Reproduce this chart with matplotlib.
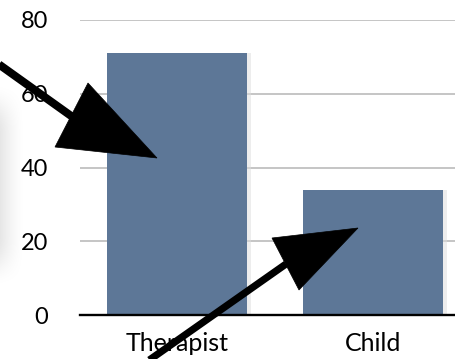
import numpy as np
import matplotlib
matplotlib.use("Agg")
import matplotlib.pyplot as plt
from matplotlib.patches import Polygon
from matplotlib.lines import Line2D

categories = ["Therapist", "Child"]
values = [71, 34]
y_ticks = [0, 20, 40, 60, 80]

W, H = 456, 359
fig = plt.figure(figsize=(W / 100, H / 100), dpi=100)
plt.rcParams['font.family'] = ['Lato', 'DejaVu Sans']

# soft grey shadow along the left edge
sx = np.linspace(0, 1, 40)
sy = np.linspace(0, 1, 120)
fx = (1 - sx) ** 1.5
fy = np.clip(np.minimum(sy / 0.25, (1 - sy) / 0.25), 0, 1)
fy = fy * fy * (3 - 2 * fy)
alpha = 0.10 * fy[:, None] * fx[None, :]
rgba = np.zeros((len(sy), len(sx), 4))
rgba[..., 3] = alpha
bg = fig.add_axes([0, 1 - 290 / H, 26 / W, 210 / H])
bg.imshow(rgba, aspect='auto', interpolation='bilinear')
bg.axis('off')

ax = fig.add_axes([80 / W, 1 - 315 / H, 1 - 80 / W, (315 - 20) / H])
x = np.arange(len(categories))
bar_color = '#5d7797'
# faint drop shadow behind the bars
ax.bar(x + 0.01, values, width=0.735, color='#dcdcdc', alpha=0.5, zorder=2,
       linewidth=0)
ax.bar(x, values, width=0.714, color=bar_color, zorder=3, linewidth=0)

ax.set_ylim(0, 80)
ax.set_xlim(-0.495, 1.423)
ax.set_yticks(y_ticks)
ax.set_yticklabels([str(t) for t in y_ticks], fontsize=17)
ax.set_xticks(x)
ax.set_xticklabels(categories, fontsize=18)
ax.tick_params(axis='y', length=0, pad=23)
ax.tick_params(axis='x', length=0, pad=12)
ax.yaxis.grid(True, color='#b5b5b5', linewidth=1.1, zorder=0)
ax.set_axisbelow(True)
for s in ['left', 'right', 'top']:
    ax.spines[s].set_visible(False)
ax.spines['bottom'].set_linewidth(1.7)
ax.spines['bottom'].set_color('black')
ax.spines['bottom'].set_zorder(4)


def px(pts):
    return [(px_x / W, 1 - px_y / H) for px_x, px_y in pts]


# pointer arrows drawn over the chart, in figure pixel space
arrow_specs = [
    # (shaft start, shaft end, head triangle, shaft width)
    ((-10, 58), (74, 118), [(157, 158), (88, 83), (55, 147)], 5.8),
    ((128, 375), (286, 264), [(358, 228), (272, 238), (299, 290)], 5.2),
]
for start, end, head, lw in arrow_specs:
    (x0, y0), (x1, y1) = px([start, end])
    fig.add_artist(Line2D([x0, x1], [y0, y1], color='black', linewidth=lw,
                          transform=fig.transFigure, solid_capstyle='butt',
                          zorder=10))
    fig.add_artist(Polygon(px(head), closed=True, facecolor='black',
                           edgecolor='black', linewidth=0.5,
                           transform=fig.transFigure, zorder=11))

fig.savefig('out.png', dpi=100)
